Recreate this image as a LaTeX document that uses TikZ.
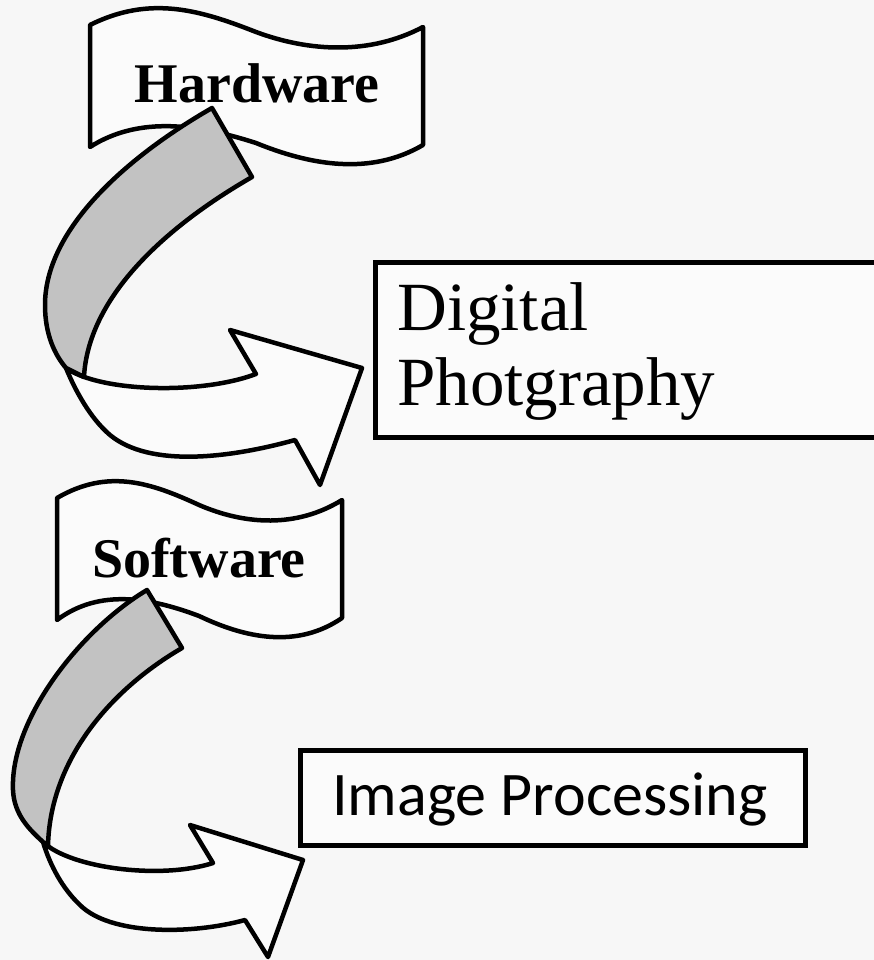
\documentclass[tikz,border=0pt]{standalone}
\usepackage{fontspec}
\setmainfont{Liberation Serif}
\newfontfamily\calfont{Carlito}
\definecolor{bgc}{RGB}{247,247,247}
\definecolor{facec}{RGB}{251,251,251}
\definecolor{backc}{RGB}{194,194,194}
\begin{document}
\begin{tikzpicture}[x=1pt,y=-1pt,
  shapeline/.style={draw=black, line width=4.5pt, line join=round},
  frontface/.style={shapeline, fill=facec},
  backface/.style={shapeline, fill=backc},
  bannertext/.style={font=\fontsize{56}{60}\selectfont\bfseries, anchor=base, inner sep=0pt},
  boxstyle/.style={draw=black, line width=4.5pt, fill=facec, inner sep=0pt, anchor=north west},
  boxtext/.style={anchor=base west, inner sep=0pt}]
\useasboundingbox (0,0) rectangle (874,960);
\clip (0,0) rectangle (874,960);
\fill[bgc] (0,0) rectangle (874,960);

% Hardware banner
\draw[frontface] (90,25) .. controls (150,-5) and (200,10) .. (256,32)
  .. controls (310,52) and (370,55) .. (423,27) -- (423,145)
  .. controls (370,176) and (310,165) .. (256,143)
  .. controls (200,125) and (140,115) .. (90,147) -- cycle;
\node[bannertext] (hw) at (257,103) {Hardware};

% first bent arrow: front face
\draw[frontface] (66,368) .. controls (100,392) and (200,395) .. (256,374)
  -- (230,330) -- (362,368) -- (320,485) -- (295,440)
  .. controls (230,458) and (150,468) .. (110,435)
  .. controls (90,418) and (75,390) .. (66,368) -- cycle;
% back face
\draw[backface] (212,108) .. controls (125,158) and (45,230) .. (45,305)
  .. controls (45,335) and (55,355) .. (66,368) -- (84,377)
  .. controls (88,300) and (160,230) .. (252,177) -- cycle;

% Digital Photography box
\node[boxstyle, minimum width=540pt, minimum height=175pt] (dpbox) at (373,260) {};
\node[boxtext, font=\fontsize{69}{75}\selectfont] (dp1) at (397,330) {Digital};
\node[boxtext, font=\fontsize{69}{75}\selectfont] (dp2) at (397,405) {Photgraphy};

% Software banner
\draw[frontface] (57,498) .. controls (108.4,468) and (151.2,483) .. (199.1,505)
  .. controls (245.3,525) and (296.7,528) .. (342,500) -- (342,618)
  .. controls (296.7,649) and (245.3,638) .. (199.1,616)
  .. controls (151.2,598) and (99.8,588) .. (57,620) -- cycle;
\node[bannertext] (sw) at (199,577) {Software};

% second bent arrow: front face
\draw[frontface] (43,842) .. controls (70,868) and (160,880) .. (213,863)
  -- (190,825) -- (303,860) -- (268,957) -- (245,920)
  .. controls (190,935) and (110,935) .. (80,905)
  .. controls (62,888) and (50,865) .. (43,842) -- cycle;
% back face
\draw[backface] (147,590) .. controls (80,630) and (10,720) .. (13,790)
  .. controls (14,815) and (30,830) .. (43,842) -- (48,846)
  .. controls (50,760) and (110,690) .. (182,648) -- cycle;

% Image Processing box
\node[boxstyle, minimum width=505pt, minimum height=95pt] (ipbox) at (298,748) {};
\node[boxtext, font=\calfont\fontsize{62}{70}\selectfont] (ip) at (332,815) {Image Processing};
\end{tikzpicture}
\end{document}
